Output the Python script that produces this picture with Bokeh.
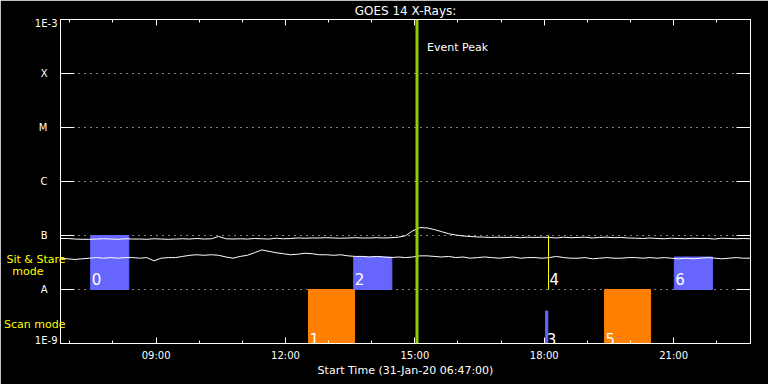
from bokeh.plotting import figure
from bokeh.models import (Range1d, LogAxis, LinearAxis, FixedTicker, Span, Label,
                          ColumnDataSource, CustomJSTickFormatter)
from bokeh.embed import file_html
from bokeh.resources import INLINE
from bokeh.core.properties import value
import math

# ---------------- data ----------------
title_text = "GOES 14 X-Rays:"
time_axis_label = "Start Time (31-Jan-20 06:47:00)"
t_start = "06:47"
t_end = "22:47"
sample_step_min = 10

# GOES XRS fluxes, in units of 1e-8 W/m^2, one sample per 10 min from 06:47
xrs_long = [8.8, 8.8, 8.6, 8.5, 8.5,
            8.6, 8.7, 8.6, 8.5, 8.7, 8.6,
            8.6, 8.5, 8.7, 8.6, 8.5,
            8.6, 8.7, 8.6, 8.8, 8.6, 8.7,
            9.6,
            8.7, 8.6, 8.7, 8.6, 8.8, 8.7, 8.6, 8.9, 8.7, 8.8,
            9.0, 8.9, 9.0, 9.0, 9.1, 9.0, 8.9, 9.0, 9.1, 9.0, 9.0, 9.1, 9.0, 9.1,
            9.3, 9.9, 12.2, 14.0, 13.8, 12.9, 11.8, 10.8, 10.2, 9.8, 9.6, 9.4,
            9.3, 9.2, 9.3, 9.2, 9.3, 9.1, 9.3, 9.2,
            9.3, 9.2, 9.0, 9.3, 9.1, 9.2, 9.3, 9.0, 9.2, 9.3, 9.1, 9.2, 9.0,
            8.9, 8.8, 9.0, 8.8, 8.7, 8.9, 8.8, 8.7, 8.9, 8.8, 8.8, 8.6, 8.9, 8.8, 8.7, 8.8, 8.7]
xrs_short = [3.8, 3.7, 3.6, 3.7, 3.8,
             3.9, 3.8, 3.9, 3.8, 3.9, 3.9,
             3.8, 3.9, 3.4, 3.8, 3.9,
             3.9, 4.1, 4.3, 4.4, 4.3, 4.4,
             4.3, 4.0, 3.8, 4.1, 4.3,
             4.8, 5.4, 5.1, 4.8, 4.6, 4.4, 4.5, 4.7, 4.6,
             4.4, 4.4, 4.3, 4.4, 4.2, 4.1,
             4.1, 4.0, 4.1, 4.0, 3.9, 4.0,
             3.9, 4.0, 4.2, 4.2, 4.1,
             4.0, 4.1, 3.9, 4.0, 3.8, 3.9, 4.0, 3.9, 3.8, 3.9, 4.0, 3.8, 3.9, 3.9,
             3.8, 3.9, 4.1, 3.9, 3.8, 3.8, 3.9, 3.7, 3.8, 3.9, 3.8, 3.8, 3.9,
             3.9, 3.8, 3.9, 3.8, 3.9, 3.8, 3.7, 3.8, 3.7, 3.8, 3.9, 3.8, 3.7, 3.8, 3.9, 3.8, 3.8]

x_tick_hours = [9, 12, 15, 18, 21]
x_tick_labels = ["09:00", "12:00", "15:00", "18:00", "21:00"]
x_minor_hours = [7, 8, 10, 11, 13, 14, 16, 17, 19, 20, 22]

flux_ticks = [1e-9, 1e-8, 1e-7, 1e-6, 1e-5, 1e-4, 1e-3]
end_labels = ["1E-9", "1E-3"]
class_levels = [1e-8, 1e-7, 1e-6, 1e-5, 1e-4]
class_labels = ["A", "B", "C", "M", "X"]

obs_label = ["0", "1", "2", "3", "4", "5", "6"]
obs_mode = ["sit", "scan", "sit", "scan", "sit", "scan", "sit"]
obs_start = ["07:29", "12:32", "13:35", "18:02", "18:06", "19:24", "21:01"]
obs_end = ["08:22", "13:36", "14:28", "18:05", "18:06", "20:28", "21:54"]
obs_low = [1e-8, 1e-9, 1e-8, 1e-9, 1e-8, 1e-9, 1e-8]
obs_high = [1e-7, 1e-8, 4e-8, 4e-9, 1e-7, 1e-8, 4e-8]

event_peak = "15:03"
event_text = "Event Peak"
mode_texts = ["Sit & Stare", "mode", "Scan mode"]

# ---------------- layout / styles ----------------
W, H = 768, 384
FRAME_L, FRAME_R, FRAME_T, FRAME_B = 60, 18, 19, 41
FRAME_H = H - FRAME_T - FRAME_B
BLUE = "#6666ff"
ORANGE = "#ff8000"
YELLOW = "#ffff00"
PEAK = "#99cc00"
FONT = "DejaVu Sans"
obs_colors = [BLUE, ORANGE, BLUE, BLUE, YELLOW, ORANGE, BLUE]


def hhmm(s):
    h, m = s.split(":")
    return int(h) + int(m) / 60.0


x0, x1 = hhmm(t_start), hhmm(t_end)
y0, y1 = 1e-9, 1e-3
px_per_dec = FRAME_H / (math.log10(y1) - math.log10(y0))


def y_at(py):          # page pixel row -> flux (anchor rows for captions)
    return 10 ** (math.log10(y1) - (py - FRAME_T) / px_per_dec)


n = len(xrs_long)
sample_hours = [x0 + i * sample_step_min / 60.0 for i in range(n)]

p = figure(width=W, height=H, x_range=Range1d(x0, x1), y_range=Range1d(y0, y1),
           y_axis_type="log", output_backend="svg", toolbar_location=None,
           min_border_left=FRAME_L, min_border_right=FRAME_R,
           min_border_top=FRAME_T, min_border_bottom=FRAME_B)
p.background_fill_color = "black"
p.border_fill_color = "black"
p.outline_line_color = "white"
p.xgrid.visible = False

p.title.text = title_text
p.title.align = "center"
p.title.vertical_align = "middle"
p.title.text_color = "white"
p.title.text_font = FONT
p.title.text_font_size = "12px"
p.title.text_font_style = "normal"
p.title.standoff = 2


def fmt(ticks, labels, log=False):
    f = "Math.log10" if log else ""
    return CustomJSTickFormatter(args=dict(t=ticks, l=labels), code="""
  for (let i = 0; i < t.length; i++) { if (Math.abs(%s(t[i]) - %s(tick)) < 1e-6) return l[i]; }
  return '';""" % (f, f))


empty_fmt = CustomJSTickFormatter(code="return ''")

# y grid: dotted class levels
p.ygrid.ticker = FixedTicker(ticks=class_levels)
p.ygrid.grid_line_color = "white"
p.ygrid.grid_line_dash = "1 5"
p.ygrid.grid_line_width = 1


def style_x(ax, f):
    ax.ticker = FixedTicker(ticks=x_tick_hours, minor_ticks=x_minor_hours)
    ax.formatter = f
    ax.axis_line_color = "white"
    ax.major_tick_line_color = "white"
    ax.minor_tick_line_color = "white"
    ax.major_tick_in = 6
    ax.major_tick_out = 0
    ax.minor_tick_in = 3
    ax.minor_tick_out = 0
    ax.major_label_text_color = "white"
    ax.major_label_text_font = FONT
    ax.major_label_text_font_size = "10px"


xb = p.xaxis[0]
style_x(xb, fmt(x_tick_hours, x_tick_labels))
xb.major_label_standoff = 6
xb.axis_label = time_axis_label
xb.axis_label_text_color = "white"
xb.axis_label_text_font = FONT
xb.axis_label_text_font_style = "normal"
xb.axis_label_text_font_size = "11px"
xb.axis_label_standoff = 0

xt = LinearAxis()
style_x(xt, empty_fmt)
xt.major_label_standoff = 0
p.add_layout(xt, "above")


def style_y(ax, f, color="white", size="10px"):
    ax.formatter = f
    ax.major_label_text_color = color
    ax.major_label_text_font = FONT
    ax.major_label_text_font_size = size
    ax.major_tick_out = 0
    ax.minor_tick_line_color = None


# main left axis: frame ticks + class letters
yl = p.yaxis[0]
yl.ticker = FixedTicker(ticks=flux_ticks)
style_y(yl, fmt(class_levels, class_labels, log=True))
yl.axis_line_color = "white"
yl.major_tick_line_color = "white"
yl.major_tick_in = 14
yl.major_label_standoff = 13

yr = LogAxis(ticker=FixedTicker(ticks=flux_ticks))
style_y(yr, empty_fmt)
yr.axis_line_color = "white"
yr.major_tick_line_color = "white"
yr.major_tick_in = 14
yr.major_label_standoff = 0
p.add_layout(yr, "right")


# extra label-only axes stacked to the left; a negative standoff pulls each one's
# labels back toward the frame so that the captions sit where the reference has them
def label_axis(ticks, labels, standoff, color="white", size="10px"):
    ax = LogAxis(ticker=FixedTicker(ticks=ticks))
    style_y(ax, fmt(ticks, labels, log=True), color, size)
    ax.axis_line_color = None
    ax.major_tick_line_color = None
    ax.major_tick_in = 0
    ax.major_label_standoff = standoff
    p.add_layout(ax, "left")


# decade ends, drawn slightly inside the frame top/bottom
label_axis([y_at(FRAME_T + FRAME_H - 3.5), y_at(FRAME_T + 4)], end_labels, -22)
# yellow mode captions
label_axis([y_at(271)], [mode_texts[1]], -12, YELLOW, "11px")
label_axis([y_at(259), y_at(323.5)], [mode_texts[0], mode_texts[2]], -56, YELLOW, "11px")

# observation boxes
obs_src = ColumnDataSource(dict(
    left=[hhmm(s) for s in obs_start], right=[hhmm(s) for s in obs_end],
    bottom=obs_low, top=obs_high, color=obs_colors, label=obs_label,
    yoff=[-11 if m == "sit" else -5 for m in obs_mode]))
p.quad(left="left", right="right", bottom="bottom", top="top", source=obs_src,
       fill_color="color", line_color="color", line_width=1)

# GOES curves
p.line(sample_hours, [v * 1e-8 for v in xrs_long], line_color="white", line_width=1)
p.line(sample_hours, [v * 1e-8 for v in xrs_short], line_color="white", line_width=1)

p.text(x="left", y="bottom", text="label", source=obs_src, x_offset=1, y_offset="yoff",
       text_color="white", text_font=value(FONT), text_font_size="15px",
       text_baseline="alphabetic")

# event peak
peak = hhmm(event_peak)
p.add_layout(Span(location=peak, dimension="height", line_color=PEAK, line_width=3))
p.add_layout(Label(x=peak, y=y1, x_offset=10, y_offset=-28, text=event_text,
                   text_color="white", text_font=FONT, text_font_size="11px",
                   text_baseline="alphabetic"))

open("out.html", "w").write(file_html(p, INLINE))
